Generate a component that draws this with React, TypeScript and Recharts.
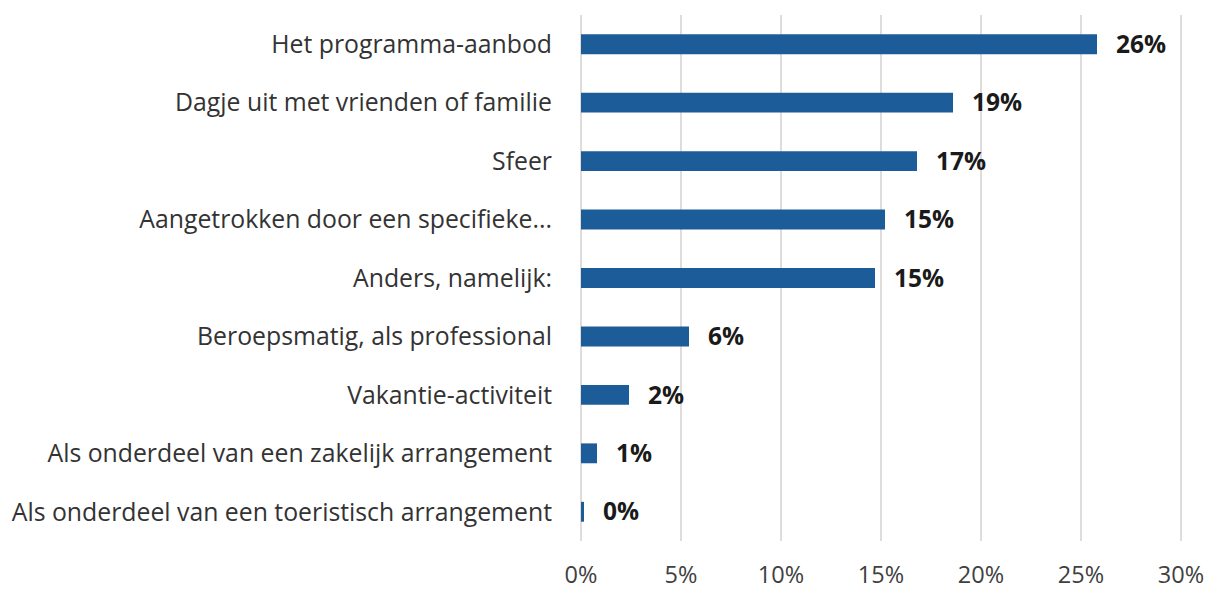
import { BarChart, Bar, XAxis, YAxis, CartesianGrid, LabelList } from "recharts"

const categories = [
  "Het programma-aanbod",
  "Dagje uit met vrienden of familie",
  "Sfeer",
  "Aangetrokken door een specifieke...",
  "Anders, namelijk:",
  "Beroepsmatig, als professional",
  "Vakantie-activiteit",
  "Als onderdeel van een zakelijk arrangement",
  "Als onderdeel van een toeristisch arrangement",
]

const values = [25.8, 18.6, 16.8, 15.2, 14.7, 5.4, 2.4, 0.8, 0.15]
const valueLabels = ["26%", "19%", "17%", "15%", "15%", "6%", "2%", "1%", "0%"]
const xTicks = [0, 5, 10, 15, 20, 25, 30]

const data = categories.map((name, i) => ({
  name,
  value: values[i],
  label: valueLabels[i],
}))

const FONT = "'Open Sans', Lato, sans-serif"

export default function App() {
  return (
    <div style={{ position: "absolute", left: 0, top: 0, background: "#fff" }}>
      <BarChart
        width={1210}
        height={592}
        data={data}
        layout="vertical"
        margin={{ top: 15, right: 29, left: 0, bottom: 0 }}
        barCategoryGap="67%"
      >
        <CartesianGrid horizontal={false} stroke="#d6d1d1" strokeWidth={1.5} />
        <XAxis
          type="number"
          domain={[0, 30]}
          ticks={xTicks}
          tickFormatter={(v) => `${v}%`}
          axisLine={false}
          tickLine={false}
          tickSize={0}
          tickMargin={25}
          height={51}
          tick={{ fill: "#404040", fontSize: 23.5, fontFamily: FONT }}
        />
        <YAxis
          type="category"
          dataKey="name"
          width={581}
          axisLine={false}
          tickLine={false}
          tickSize={0}
          tickMargin={29}
          interval={0}
          tick={{ fill: "#333333", fontSize: 24.8, fontFamily: FONT }}
        />
        <Bar dataKey="value" fill="#1c5c98" isAnimationActive={false}>
          <LabelList
            dataKey="label"
            position="right"
            offset={19}
            style={{ fill: "#1a1a1a", fontSize: 24.5, fontWeight: 700, fontFamily: FONT }}
          />
        </Bar>
      </BarChart>
    </div>
  )
}
